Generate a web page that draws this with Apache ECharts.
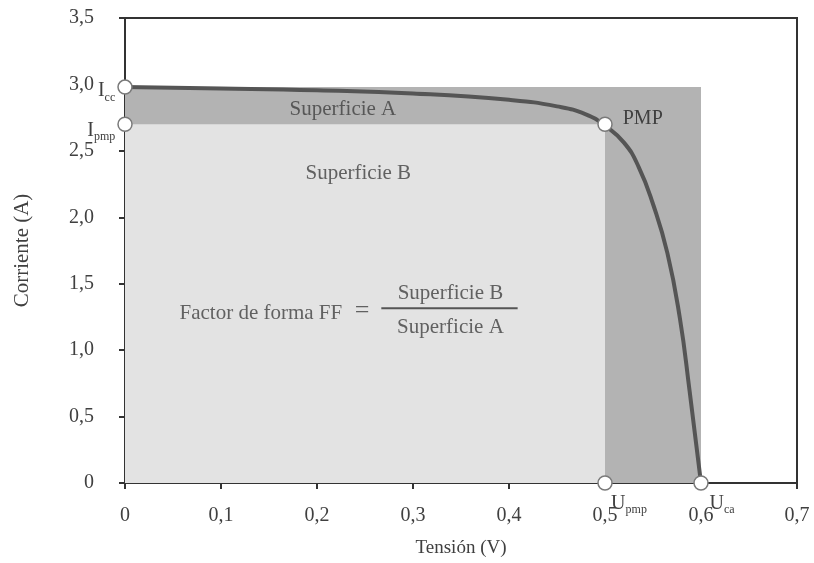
<!DOCTYPE html>
<html>
<head>
<meta charset="utf-8">
<script src="https://cdn.jsdelivr.net/npm/echarts@6/dist/echarts.min.js"></script>
<style>html,body{margin:0;padding:0;background:#fff}#c{width:814px;height:563px}</style>
</head>
<body>
<div id="c"></div>
<script>
// I-V curve of a solar cell (voltage in V, current in A)
const curve = [
  [0, 2.98], [0.1, 2.97], [0.2, 2.956], [0.3, 2.932], [0.4, 2.884],
  [0.45, 2.835], [0.48, 2.775], [0.5, 2.69], [0.52, 2.56], [0.535, 2.38],
  [0.55, 2.1], [0.565, 1.73], [0.578, 1.24], [0.588, 0.7], [0.6, 0]
];
// characteristic points
const Icc = 2.98, Ipmp = 2.7, Upmp = 0.5, Uca = 0.6;
const xTicks = ['0', '0,1', '0,2', '0,3', '0,4', '0,5', '0,6', '0,7'];
const yTicks = ['0', '0,5', '1,0', '1,5', '2,0', '2,5', '3,0', '3,5'];
// text annotations: [x, y, text, fontSize]
const notes = [
  [0.227, 2.81, 'Superficie A', 21],
  [0.243, 2.33, 'Superficie B', 21],
  [0.1415, 1.278, 'Factor de forma FF', 21],
  [0.247, 1.29, '=', 26],
  [0.339, 1.43, 'Superficie B', 21],
  [0.339, 1.173, 'Superficie A', 21]
];
const fracBar = [[0.267, 1.316], [0.409, 1.316]];

const serif = 'Liberation Serif';
const txt = '#404040';
const subRich = {
  m: { fontFamily: serif, fontSize: 20, color: txt },
  s: { fontFamily: serif, fontSize: 12, color: txt, padding: [13, 0, 0, 0] }
};
const circleStyle = { color: '#fff', borderColor: '#7a7a7a', borderWidth: 1.5, opacity: 1 };

const chart = echarts.init(document.getElementById('c'));
chart.setOption({
  animation: false,
  backgroundColor: '#fff',
  grid: { left: 125, right: 17, top: 18, bottom: 80, show: true, borderColor: '#333', borderWidth: 2 },
  xAxis: {
    type: 'value', min: 0, max: 0.7, interval: 0.1,
    name: 'Tensión (V)', nameLocation: 'middle', nameGap: 56,
    nameTextStyle: { fontFamily: serif, fontSize: 19, color: txt },
    axisLine: { lineStyle: { color: '#333', width: 2 } },
    axisTick: { show: true, length: 6, lineStyle: { color: '#333', width: 2 } },
    axisLabel: { margin: 23, fontFamily: serif, fontSize: 20, color: txt,
      formatter: (v) => xTicks[Math.round(v * 10)] },
    splitLine: { show: false }
  },
  yAxis: {
    type: 'value', min: 0, max: 3.5, interval: 0.5,
    name: 'Corriente (A)', nameLocation: 'middle', nameGap: 92,
    nameTextStyle: { fontFamily: serif, fontSize: 21, color: txt },
    axisLine: { show: true, lineStyle: { color: '#333', width: 2 } },
    axisTick: { show: true, length: 6, lineStyle: { color: '#333', width: 2 } },
    axisLabel: { margin: 31, fontFamily: serif, fontSize: 20, color: txt,
      formatter: (v) => yTicks[Math.round(v * 2)] },
    splitLine: { show: false }
  },
  series: [
    {
      // shaded areas: Icc x Uca (A) and Ipmp x Upmp (B)
      type: 'line', data: [], silent: true,
      markArea: {
        silent: true,
        data: [
          [{ coord: [0, 0], itemStyle: { color: '#b3b3b3' } }, { coord: [Uca, Icc] }],
          [{ coord: [0, 0], itemStyle: { color: '#e3e3e3' } }, { coord: [Upmp, Ipmp] }]
        ]
      }
    },
    {
      type: 'line', data: curve, smooth: 0.5, symbol: 'none',
      lineStyle: { color: '#555', width: 4 }, z: 3
    },
    {
      type: 'line', data: fracBar, symbol: 'none',
      lineStyle: { color: '#555', width: 2 }, z: 3
    },
    {
      type: 'scatter', symbolSize: 0, z: 4, clip: false,
      data: notes.map(n => ({ value: [n[0], n[1]], name: n[2],
        label: { fontSize: n[3] } })),
      label: { show: true, position: 'inside', formatter: p => p.name,
        fontFamily: serif, color: txt }
    },
    {
      type: 'scatter', symbol: 'circle', symbolSize: 14, z: 5, clip: false,
      itemStyle: circleStyle,
      data: [
        { value: [0, Icc], label: { show: true, position: 'left', distance: 2, offset: [0, 4],
            formatter: '{m|I}{s|cc}', rich: subRich } },
        { value: [0, Ipmp], label: { show: true, position: 'left', distance: 0, offset: [-2, 6],
            formatter: '{m|I}{s|pmp}', rich: subRich } },
        { value: [Upmp, Ipmp], label: { show: true, position: 'right', distance: 10, offset: [0, -6],
            formatter: 'PMP', fontFamily: serif, fontSize: 20, color: txt } },
        { value: [Upmp, 0], label: { show: true, position: 'bottom', distance: 0, offset: [24, 0],
            formatter: '{m|U}{s|pmp}', rich: subRich } },
        { value: [Uca, 0], label: { show: true, position: 'bottom', distance: 0, offset: [21, 0],
            formatter: '{m|U}{s|ca}', rich: subRich } }
      ]
    }
  ]
});
</script>
</body>
</html>
